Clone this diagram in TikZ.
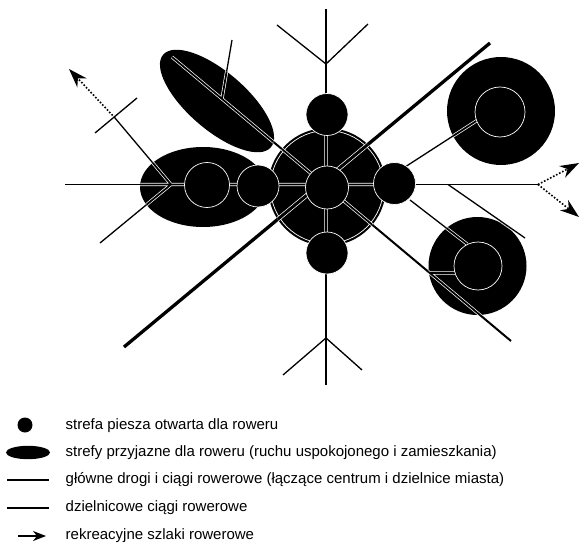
\documentclass[tikz,border=0pt]{standalone}
\usepackage{fontspec}
\setmainfont{Liberation Sans}
\usetikzlibrary{arrows.meta}
\begin{document}
\begin{tikzpicture}[x=1pt,y=-1pt,
  zone/.style={fill=black},
  ringzone/.style={fill=black, draw=white, line width=0.7pt},
  mainroad/.style={line width=2pt},
  thinroad/.style={line width=1.3pt},
  heavyroad/.style={line width=3.3pt},
  casing/.style={draw=white, line width=0.7pt, double=black, double distance=1.8pt},
  heavycasing/.style={draw=white, line width=0.7pt, double=black, double distance=3pt},
  rec/.style={line width=1.6pt, dash pattern=on 1.6pt off 1.8pt, -{Stealth[length=19pt,width=13pt,inset=6pt]}},
  legtext/.style={anchor=base west, font=\fontsize{15}{18}\selectfont, inner sep=0pt}]
\useasboundingbox (0,0) rectangle (580,545);

% ---------- named points ----------
\coordinate (big) at (327,187);
\coordinate (lell) at (203,187);
\coordinate (tell) at (217,101);
\coordinate (ur) at (501,111);
\coordinate (br) at (477.5,266);

\coordinate (wW) at (65,184.5);   \coordinate (wE) at (538,184.5);
\coordinate (nN) at (326,9);      \coordinate (sS) at (326,385);
\coordinate (nw) at (172,57);     \coordinate (se) at (511,341);
\coordinate (ne1) at (124,347);   \coordinate (ne2) at (490,43);
\coordinate (fork) at (171,184.5);
\coordinate (nwT) at (115,118);   \coordinate (swE) at (100,243);
\coordinate (ax) at (222,98.8);   \coordinate (ellN) at (232,40);
\coordinate (r1) at (405,167);    \coordinate (r1e) at (477,120.5);
\coordinate (r2) at (410,200);    \coordinate (r2e) at (467,244);
\coordinate (h1) at (448,184.5);  \coordinate (h1e) at (525,238);
\coordinate (s1) at (430,273);    \coordinate (s1e) at (455,273);
\coordinate (nF) at (326,64);     \coordinate (nA) at (277,25);   \coordinate (nB) at (368,24);
\coordinate (sF) at (326,338);    \coordinate (sA) at (283,375);  \coordinate (sB) at (362,370);
\coordinate (t1) at (95,133);     \coordinate (t2) at (137,98);
\coordinate (arrNW) at (69,69);
\coordinate (arrU) at (579,163);  \coordinate (arrD) at (579,217);

% ---------- zones ----------
\fill[zone] (big) circle[radius=59];
\fill[zone] (lell) ellipse[x radius=63, y radius=40];
\fill[zone, rotate around={-40.7:(tell)}] (tell) ellipse[x radius=71, y radius=29];
\fill[zone] (ur) circle[radius=54];
\fill[zone] (br) circle[radius=49];
\draw[white, line width=0.7pt] (big) circle[radius=56.5];

% ---------- roads ----------
\draw[mainroad, line width=1.8pt] (wW) -- (wE);
\draw[mainroad, line width=2.2pt] (nN) -- (sS);
\draw[mainroad] (nw) -- (se);
\draw[heavyroad] (ne1) -- (ne2);
\draw[thinroad] (fork) -- (nwT);
\draw[thinroad] (fork) -- (swE);
\draw[thinroad] (ax) -- (ellN);
\draw[thinroad] (r1) -- (r1e);
\draw[thinroad] (r2) -- (r2e);
\draw[thinroad] (h1) -- (h1e);
\draw[thinroad] (s1) -- (s1e);
\draw[thinroad] (nF) -- (nA);
\draw[thinroad] (nF) -- (nB);
\draw[thinroad] (sF) -- (sA);
\draw[thinroad] (sF) -- (sB);
\draw[thinroad] (t1) -- (t2);

% ---------- roads inside zones (white edged) ----------
\newcommand\myCasedRoads{%
  \draw[casing] (wW) -- (wE) (nN) -- (sS) (nw) -- (se)
     (fork) -- (nwT) (fork) -- (swE) (ax) -- (ellN)
     (r1) -- (r1e) (r2) -- (r2e) (h1) -- (h1e) (s1) -- (s1e);
  \draw[heavycasing] (ne1) -- (ne2);}
\begin{scope}
  \clip (big) circle[radius=59];
  \myCasedRoads
\end{scope}
\begin{scope}
  \clip (lell) ellipse[x radius=63, y radius=40];
  \myCasedRoads
\end{scope}
\begin{scope}
  \clip[rotate around={-40.7:(tell)}] (tell) ellipse[x radius=71, y radius=29];
  \myCasedRoads
\end{scope}
\begin{scope}
  \clip (ur) circle[radius=54];
  \myCasedRoads
\end{scope}
\begin{scope}
  \clip (br) circle[radius=49];
  \myCasedRoads
\end{scope}

% ---------- pedestrian zones ----------
\draw[ringzone] (327,114.5) circle[radius=21];
\draw[ringzone] (327,187.5) circle[radius=21.5];
\draw[ringzone] (327,253) circle[radius=21];
\draw[ringzone] (258,186) circle[radius=21];
\draw[ringzone] (394.5,183.5) circle[radius=21];
\draw[ringzone] (207,185) circle[radius=22.5];
\draw[ringzone] (500,112) circle[radius=25];
\draw[ringzone] (478,266) circle[radius=24];

% ---------- recreational routes ----------
\draw[rec] (nwT) -- (arrNW);
\draw[rec] (wE) -- (arrU);
\draw[rec] (wE) -- (arrD);

% ---------- legend ----------
\fill (25,425) circle[radius=7.5];
\fill (28,452.5) ellipse[x radius=22, y radius=6.7];
\coordinate (l3a) at (7,480);  \coordinate (l3b) at (49,480);
\coordinate (l4a) at (7,508);  \coordinate (l4b) at (49,508);
\coordinate (l5a) at (18,536); \coordinate (l5b) at (46,536);
\draw[line width=1.8pt] (l3a) -- (l3b);
\draw[line width=1.4pt] (l4a) -- (l4b);
\draw[line width=1.6pt, -{Stealth[length=13pt,width=10pt,inset=4pt]}] (l5a) -- (l5b);
\node[legtext] (t1n) at (65.5,429) {strefa piesza otwarta dla roweru};
\node[legtext] (t2n) at (65.5,456) {strefy przyjazne dla roweru (ruchu uspokojonego i zamieszkania)};
\node[legtext] (t3n) at (65.5,483) {główne drogi i ciągi rowerowe (łączące centrum i dzielnice miasta)};
\node[legtext] (t4n) at (65.5,511) {dzielnicowe ciągi rowerowe};
\node[legtext] (t5n) at (65.5,539) {rekreacyjne szlaki rowerowe};
\end{tikzpicture}
\end{document}
